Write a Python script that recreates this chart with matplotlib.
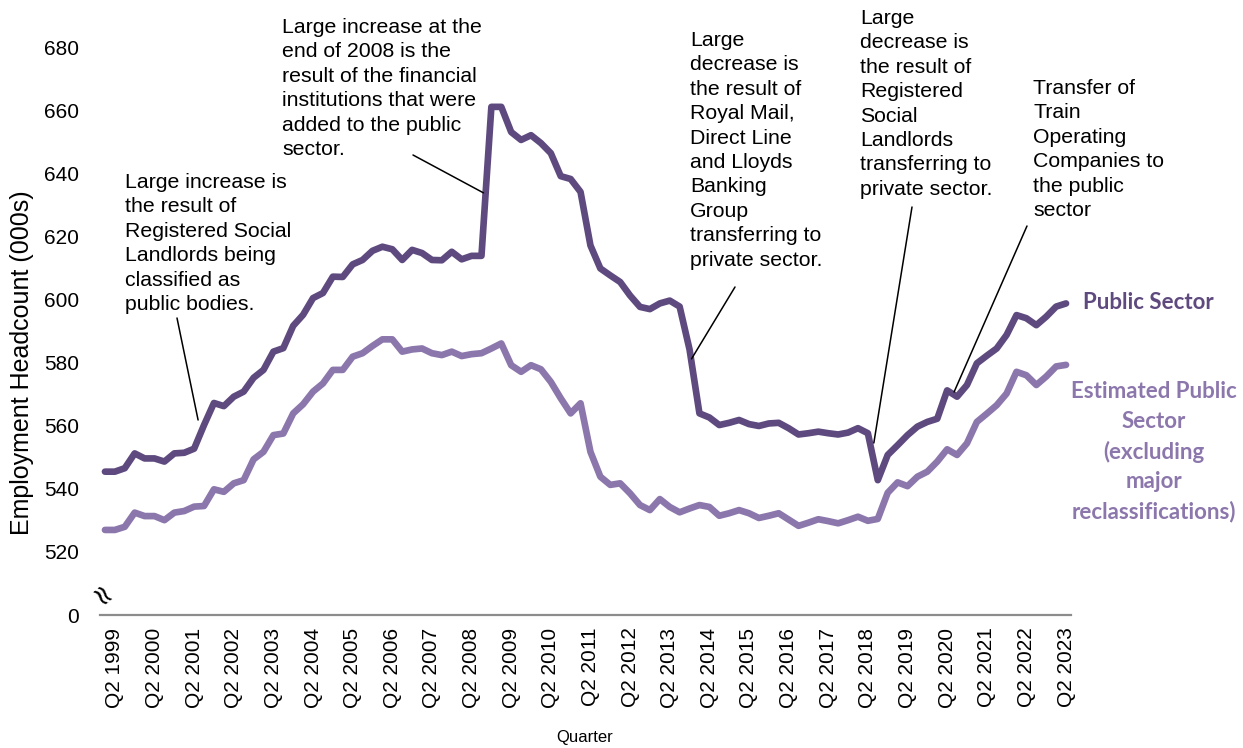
import numpy as np
import matplotlib
matplotlib.use('Agg')
import matplotlib.pyplot as plt

# quarterly series, Q1 1999 .. Q2 2023 (000s)
years = list(range(1999, 2024))
quarters = [f'Q{q} {y}' for y in years for q in range(1, 5)][:98]

public_sector = [
    545.2, 545.2, 546.3, 551.0, 549.4, 549.4, 548.4, 551.0, 551.2, 552.5,
    560.0, 567.0, 566.0, 569.0, 570.6, 575.0, 577.5, 583.3, 584.4, 591.5,
    595.0, 600.3, 601.9, 607.1, 607.0, 611.0, 612.4, 615.3, 616.6, 615.8,
    612.4, 615.6, 614.6, 612.4, 612.3, 615.0, 612.6, 613.7, 613.7, 661.0,
    661.0, 653.0, 650.5, 652.0, 649.5, 646.3, 639.0, 638.1, 634.0, 617.0,
    609.7, 607.5, 605.4, 601.1, 597.5, 596.8, 598.6, 599.5, 597.6, 584.0,
    563.7, 562.4, 560.0, 560.7, 561.6, 560.3, 559.7, 560.5, 560.7, 559.0,
    557.0, 557.4, 557.9, 557.4, 557.0, 557.6, 559.0, 557.4, 542.5, 550.5,
    553.6, 556.8, 559.5, 561.0, 562.0, 571.0, 569.0, 572.7, 579.6, 582.0,
    584.3, 588.6, 594.9, 593.9, 591.7, 594.4, 597.6, 598.6,
]

estimated_public_sector = [
    526.7, 526.7, 527.7, 532.2, 531.1, 531.1, 529.8, 532.2, 532.7, 534.1,
    534.3, 539.6, 538.8, 541.5, 542.5, 549.1, 551.5, 556.8, 557.3, 563.7,
    566.6, 570.6, 573.2, 577.5, 577.5, 581.7, 582.8, 585.1, 587.2, 587.2,
    583.3, 584.0, 584.3, 582.8, 582.2, 583.3, 581.9, 582.5, 582.8, 584.3,
    585.9, 579.0, 576.9, 579.0, 577.7, 573.7, 568.5, 563.7, 566.9, 551.5,
    543.6, 541.0, 541.5, 538.3, 534.6, 533.0, 536.5, 534.0, 532.3, 533.5,
    534.6, 534.0, 531.2, 532.0, 533.0, 532.0, 530.5, 531.2, 532.0, 530.0,
    528.0, 529.0, 530.1, 529.5, 528.8, 529.8, 530.9, 529.6, 530.2, 538.5,
    541.8, 540.6, 543.6, 545.2, 548.4, 552.3, 550.5, 554.2, 561.0, 563.6,
    566.3, 570.0, 576.9, 575.8, 572.7, 575.4, 578.6, 579.1,
]

y_ticks = [520, 540, 560, 580, 600, 620, 640, 660, 680]
y_break = 499.7  # where the "0" sits below the axis break

dark = '#5e4a7e'
light = '#8c77ac'
font = 'Liberation Sans'

W, H = 1243, 748
fig = plt.figure(figsize=(W / 100, H / 100), dpi=100)
ax = fig.add_axes([100 / W, 1 - 615 / H, 971 / W, 568 / H])


def px(x, y):
    return x / W, 1 - y / H


x = np.arange(len(quarters))
ax.plot(x, public_sector, color=dark, lw=4.8, solid_joinstyle='round',
        solid_capstyle='round', clip_on=False)
ax.plot(x, estimated_public_sector, color=light, lw=4.8, solid_joinstyle='round',
        solid_capstyle='round', clip_on=False)

ax.set_xlim(-0.5, len(quarters) - 0.5)
ax.set_ylim(y_break, 680)
ax.set_yticks([y_break] + y_ticks)
ax.set_yticklabels(['0'] + [str(v) for v in y_ticks], fontfamily=font, fontsize=15)
tick_idx = [i for i, q in enumerate(quarters) if q.startswith('Q2')]
ax.set_xticks(tick_idx)
ax.set_xticklabels([quarters[i] for i in tick_idx], rotation=90,
                   fontfamily=font, fontsize=15)
ax.tick_params(axis='y', length=0, pad=15)
ax.tick_params(axis='x', length=0, pad=9)

for s in ['top', 'right', 'left']:
    ax.spines[s].set_visible(False)
ax.spines['bottom'].set_color('#8c8c8c')
ax.spines['bottom'].set_linewidth(1.6)

ax.set_ylabel('Employment Headcount (000s)', fontfamily=font, fontsize=18,
              va='center', ha='center')
ax.yaxis.set_label_coords(-0.0803, 0.444)
ax.set_xlabel('Quarter', fontfamily=font, fontsize=12, va='center')
ax.xaxis.set_label_coords(0.4995, -0.2165)

# axis break mark
fig.text(*px(100, 597), '\u2248', rotation=-50, ha='center', va='center',
         fontsize=20, fontfamily='DejaVu Sans')

# annotations: (text, text top-left px, data point the connector touches, connector start px)
notes = [
    ('Large increase is\nthe result of\nRegistered Social\nLandlords being\nclassified as\npublic bodies.',
     (125, 173), (9.4, 561.6), (177, 318)),
    ('Large increase at the\nend of 2008 is the\nresult of the financial\ninstitutions that were\nadded to the public\nsector.',
     (282, 18), (38.2, 633.7), (413, 155)),
    ('Large\ndecrease is\nthe result of\nRoyal Mail,\nDirect Line\nand Lloyds\nBanking\nGroup\ntransferring to\nprivate sector.',
     (690, 31), (59.2, 581.0), (735, 287)),
    ('Large\ndecrease is\nthe result of\nRegistered\nSocial\nLandlords\ntransferring to\nprivate sector.',
     (860, 9), (77.6, 554.3), (912, 207)),
    ('Transfer of\nTrain\nOperating\nCompanies to\nthe public\nsector',
     (1033, 79), (85.7, 570.5), (1027, 226)),
]
for text, (tx, ty), xy, start in notes:
    fig.text(*px(tx, ty), text, ha='left', va='top', fontfamily=font,
             fontsize=15.3, linespacing=1.36, color='black')
    ax.annotate('', xy=xy, xycoords='data', xytext=px(*start),
                textcoords='figure fraction',
                arrowprops=dict(arrowstyle='-', color='black', lw=1.1,
                                shrinkA=0, shrinkB=0))

fig.text(*px(1083, 303), 'Public Sector', ha='left', va='center',
         fontfamily='Lato', fontweight='bold', fontsize=16, color=dark)
fig.text(*px(1154, 452), 'Estimated Public\nSector\n(excluding\nmajor\nreclassifications)',
         ha='center', va='center', fontfamily='Lato', fontweight='bold',
         fontsize=16, color=light, linespacing=1.5)

fig.savefig('out.png', dpi=100)
